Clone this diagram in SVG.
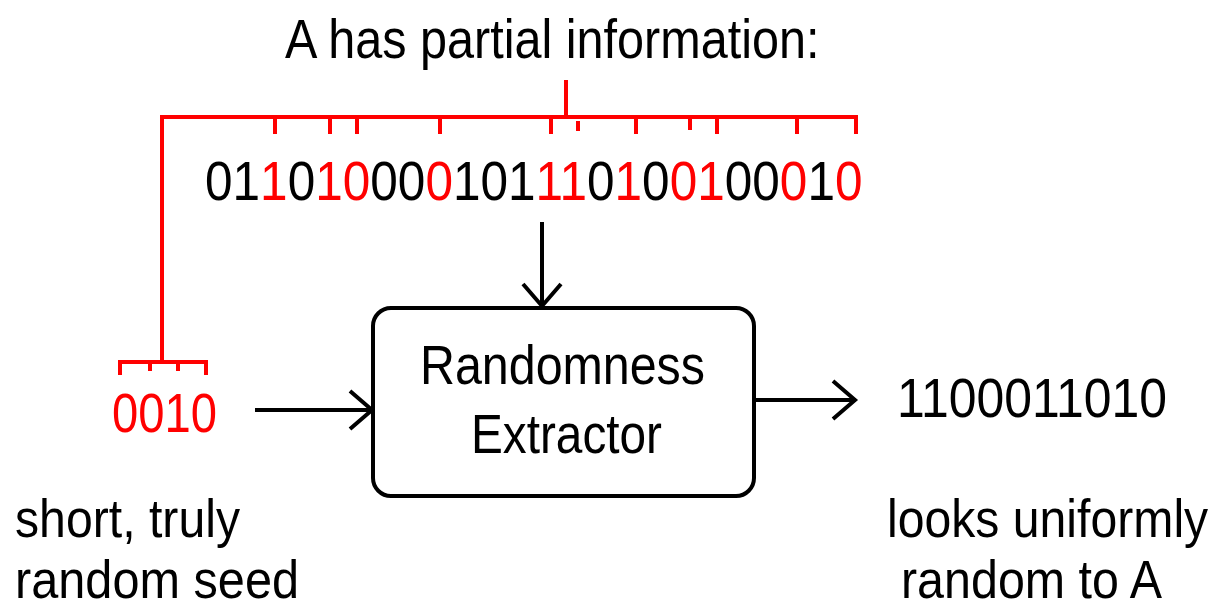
<svg xmlns="http://www.w3.org/2000/svg" width="1223" height="609" viewBox="0 0 1223 609">
  <style>
    text { font-family: "Liberation Sans", Arial, sans-serif; font-size: 55px; fill: #000; }
    .red { fill: #ff0000; }
    .caption { font-size: 53px; }
    .bracket { fill: none; stroke: #ff0000; stroke-width: 4; stroke-linecap: butt; }
    .wire { fill: none; stroke: #000; stroke-width: 4; }
    .box { fill: #fff; stroke: #000; stroke-width: 4; }
  </style>
  <defs>
    <marker id="chevron" markerUnits="userSpaceOnUse" viewBox="-26 -22 30 44" markerWidth="30" markerHeight="44" refX="0" refY="0" orient="auto">
      <path d="M-22,-19 L0,0 L-22,19" fill="none" stroke="#000" stroke-width="4"/>
    </marker>
  </defs>
  <rect width="1223" height="609" fill="#fff"/>

  <!-- source string with the bits A knows (narrowed horizontally) -->
  <g id="title">
    <text transform="translate(285,58) scale(0.883,1)">A has partial information:</text>
  </g>

  <g id="source">
    <text transform="translate(205,200) scale(0.9007,1)">01<tspan class="red">1</tspan>0<tspan class="red">10</tspan>00<tspan class="red">0</tspan>101<tspan class="red">11</tspan>0<tspan class="red">1</tspan>0<tspan class="red">01</tspan>00<tspan class="red">0</tspan>1<tspan class="red">0</tspan></text>
  </g>

  <!-- red bracket over the known bits, tied to the seed -->
  <g id="bracket">
    <path class="bracket" d="M566,80 V117 M162,362 V117 H856 V134"/>
    <path class="bracket" d="M275,117 V134 M330,117 V134 M357,117 V134 M440,117 V134 M551,117 V134 M578,121 V131 M636,117 V134 M690,117 V130 M717,117 V134 M797,117 V134"/>
    <path class="bracket" d="M120,375 V362 H206 V375 M150,362 V371 M178,362 V371"/>
  </g>

  <g id="seed">
    <text class="red" x="112" y="432" textLength="105" lengthAdjust="spacingAndGlyphs">0010</text>
    <text class="caption" x="15" y="537" textLength="225" lengthAdjust="spacingAndGlyphs">short, truly</text>
    <text class="caption" x="15" y="598" textLength="284" lengthAdjust="spacingAndGlyphs">random seed</text>
  </g>

  <g id="extractor">
    <rect class="box" x="373" y="308" width="381" height="188" rx="18" ry="18"/>
    <text x="420" y="384" textLength="285" lengthAdjust="spacingAndGlyphs">Randomness</text>
    <text x="471" y="453" textLength="191" lengthAdjust="spacingAndGlyphs">Extractor</text>
  </g>

  <g id="output">
    <text x="897" y="417" textLength="270" lengthAdjust="spacingAndGlyphs">1100011010</text>
    <text class="caption" transform="translate(887,537) scale(0.909,1)">looks uniformly</text>
    <text class="caption" x="901" y="598" textLength="261" lengthAdjust="spacingAndGlyphs">random to A</text>
  </g>

  <g id="connectors">
    <path class="wire" d="M542,222 V306" marker-end="url(#chevron)"/>
    <path class="wire" d="M255,410 H372" marker-end="url(#chevron)"/>
    <path class="wire" d="M754,400 H855" marker-end="url(#chevron)"/>
  </g>
</svg>
